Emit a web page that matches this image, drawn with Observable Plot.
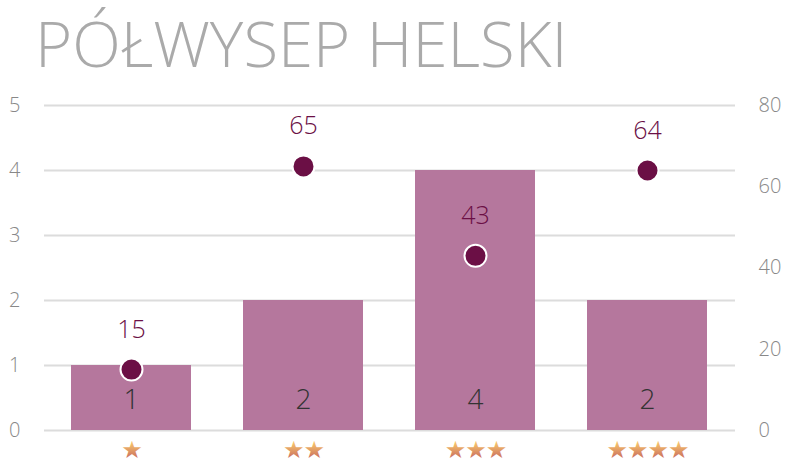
<!DOCTYPE html>
<html>
<head>
<meta charset="utf-8">
<script src="https://cdn.jsdelivr.net/npm/d3@7"></script>
<script src="https://cdn.jsdelivr.net/npm/@observablehq/plot@0.6"></script>
<style>
  html, body { margin: 0; padding: 0; background: #fff; }
  body { width: 787px; height: 465px; overflow: hidden; font-family: "Open Sans", sans-serif; }
  #title { height: 75px; line-height: 85px; font-size: 63.5px; font-weight: 300; color: #aaaaaa; padding-left: 35px; white-space: nowrap; overflow: visible; }
  #chart svg { display: block; }
  .stars text { letter-spacing: -1px; }
</style>
</head>
<body>
<div id="title">PÓŁWYSEP HELSKI</div>
<div id="chart"></div>
<script>
// Star rating categories
const categories = ["1", "2", "3", "4"];
// Bar values (left axis)
const counts = [1, 2, 4, 2];
// Dot values (right axis)
const shares = [15, 65, 43, 64];
// Tick labels
const leftTicks = [0, 1, 2, 3, 4, 5];
const rightTicks = [0, 20, 40, 60, 80];
const rightMax = 80, leftMax = 5;

const data = categories.map((c, i) => ({cat: c, count: counts[i], share: shares[i]}));
const toLeft = v => v * leftMax / rightMax;

const purple = "#b5779d";
const dark = "#6b0f45";

const chart = Plot.plot({
  width: 787,
  height: 390,
  marginLeft: 44,
  marginRight: 52,
  marginTop: 30,
  marginBottom: 35,
  style: {fontFamily: "Open Sans, sans-serif", fontWeight: 300, background: "#fff"},
  x: {type: "band", domain: categories, paddingInner: 0.3, paddingOuter: 0.15, axis: null},
  y: {domain: [0, leftMax], axis: null},
  marks: [
    Plot.ruleY(leftTicks, {stroke: "#dcdcdc", strokeWidth: 2}),
    Plot.barY(data, {x: "cat", y: "count", fill: purple}),
    Plot.axisY({ticks: leftTicks, anchor: "left", label: null, tickSize: 0, tickPadding: 24, fontSize: 20, fill: "#888", tickFormat: d => d, fontWeight: 300}),
    Plot.axisY({ticks: rightTicks.map(toLeft), anchor: "right", label: null, tickSize: 0, tickPadding: 23, fontSize: 20, fill: "#888", tickFormat: d => Math.round(d * rightMax / leftMax), fontWeight: 300}),
    Plot.text(data, {x: "cat", y: 0, text: d => String(d.count), dy: -30, fontSize: 28, fill: "#333", fontWeight: 300}),
    Plot.dot(data, {x: "cat", y: d => toLeft(d.share), r: 11, fill: dark, stroke: "#fff", strokeWidth: 2}),
    Plot.text(data, {x: "cat", y: d => toLeft(d.share), text: d => String(d.share), dy: -40, fontSize: 25, fill: dark, fontWeight: 300}),
    Plot.text(categories, {x: d => d, text: d => "★".repeat(+d), frameAnchor: "bottom", lineAnchor: "middle", dy: 20, fontSize: 24, fill: "url(#starGrad)", fontFamily: "DejaVu Sans", fontWeight: 400, className: "stars"})
  ]
});

const defs = d3.select(chart).insert("defs", ":first-child");
const grad = defs.append("linearGradient").attr("id", "starGrad").attr("x1", 0).attr("y1", 0).attr("x2", 0).attr("y2", 1);
grad.append("stop").attr("offset", "25%").attr("stop-color", "#f6c36c");
grad.append("stop").attr("offset", "80%").attr("stop-color", "#c86b5e");

document.getElementById("chart").appendChild(chart);
</script>
</body>
</html>
